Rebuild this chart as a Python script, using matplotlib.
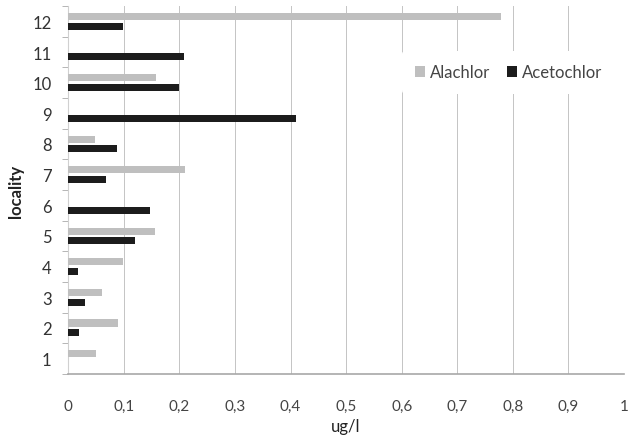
import numpy as np
import matplotlib
matplotlib.use("Agg")
import matplotlib.pyplot as plt

# values (ug/l)
localities = [1, 2, 3, 4, 5, 6, 7, 8, 9, 10, 11, 12]
alachlor = [0.05, 0.09, 0.06, 0.098, 0.157, 0.0, 0.21, 0.048, 0.0, 0.158, 0.0, 0.778]
acetochlor = [0.0, 0.02, 0.03, 0.018, 0.12, 0.148, 0.068, 0.088, 0.41, 0.2, 0.208, 0.098]
xticks = [0, 0.1, 0.2, 0.3, 0.4, 0.5, 0.6, 0.7, 0.8, 0.9, 1]
xtick_labels = ["0", "0,1", "0,2", "0,3", "0,4", "0,5", "0,6", "0,7", "0,8", "0,9", "1"]

plt.rcParams['font.family'] = ['Lato', 'DejaVu Sans']

fig = plt.figure(figsize=(6.31, 4.39), dpi=100)
ax = fig.add_axes([0.108, 0.146, 0.881, 0.838])

y = np.array(localities)
h = 0.23
ax.barh(y + 0.16, alachlor, height=h, color='#bfbfbf', label='Alachlor', zorder=3)
ax.barh(y - 0.16, acetochlor, height=h, color='#1c1c1c', label='Acetochlor', zorder=3)

ax.set_xlim(0, 1)
ax.set_ylim(0.5, 12.5)
ax.set_xticks(xticks)
ax.set_xticklabels(xtick_labels, fontsize=11, color='#444444')
ax.set_yticks(localities)
ax.set_yticklabels([str(v) for v in localities], fontsize=12, color='#333333')
ax.set_yticks(np.arange(0.5, 13, 1), minor=True)
ax.tick_params(axis='x', length=0, pad=18)
ax.tick_params(axis='y', which='major', length=0, pad=12)
ax.tick_params(axis='y', which='minor', length=4, color='#aaaaaa', direction='out')

ax.grid(axis='x', color='#c4c4c4', linewidth=0.7, zorder=0)
for s in ['top', 'right']:
    ax.spines[s].set_visible(False)
ax.spines['left'].set_color('#d0d0d0')
ax.spines['bottom'].set_color('#a8a8a8')
ax.spines['bottom'].set_linewidth(1.2)

ax.set_xlabel('ug/l', fontsize=12, color='#222222', labelpad=4)
ax.set_ylabel('locality', fontsize=12, fontweight='bold', color='#222222', labelpad=6)

leg = ax.legend(loc='upper right', bbox_to_anchor=(1.0, 0.90), ncol=2, frameon=True,
                fontsize=12, handlelength=0.6, handleheight=0.6, handletextpad=0.3,
                columnspacing=1.0, borderpad=0.8)
leg.get_frame().set_edgecolor('none')
leg.get_frame().set_facecolor('white')
leg.get_frame().set_alpha(1)
for t in leg.get_texts():
    t.set_color('#444444')

fig.savefig('out.png', dpi=100)
